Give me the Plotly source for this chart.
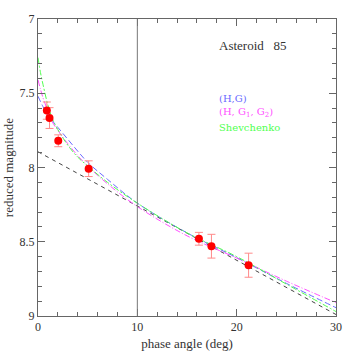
import plotly.graph_objects as go

# observations
obs_alpha = [0.89, 1.16, 2.04, 5.1, 16.2, 17.46, 21.2]
obs_mag = [7.617, 7.667, 7.82, 8.008, 8.48, 8.53, 8.658]
obs_err = [0.058, 0.07, 0.04, 0.053, 0.043, 0.08, 0.081]

# model curves
hg_alpha = [0, 0.5, 1, 1.5, 2, 3, 4, 5, 7, 10, 15, 20, 25, 30]
hg_mag = [7.52, 7.59, 7.65, 7.69, 7.73, 7.81, 7.89, 7.965, 8.08, 8.24, 8.44, 8.607, 8.78, 8.944]

hg12_alpha = [0, 0.5, 1, 1.5, 2, 3, 4, 5, 7, 10, 15, 20, 25, 30]
hg12_mag = [7.41, 7.53, 7.62, 7.70, 7.75, 7.84, 7.92, 7.99, 8.11, 8.263, 8.46, 8.61, 8.765, 8.91]

shev_alpha = [0, 0.25, 0.5, 1, 1.5, 2, 3, 4, 5, 7, 10, 15, 20, 25, 30]
shev_mag = [7.26, 7.36, 7.44, 7.58, 7.68, 7.745, 7.85, 7.93, 7.99, 8.10, 8.24, 8.44, 8.60, 8.785, 8.97]

lin_alpha = [0, 30]
lin_mag = [7.894, 8.99]

title_text = "Asteroid\u00a0\u00a0\u00a085"
legend_labels = ["(H,G)", "(H, G<sub>1</sub>, G<sub>2</sub>)", "Shevchenko"]
legend_colors = ["#6a6aff", "#ff50ff", "#50ff50"]

FONT = "Liberation Serif"

W = H = 354
L, R, T, B = 38, 18, 19, 38
PW = W - L - R
PH = H - T - B

fig = go.Figure()
fig.add_trace(go.Scatter(x=lin_alpha, y=lin_mag, mode="lines",
                         line=dict(color="#444444", width=1, dash="4px,4px"), showlegend=False))
fig.add_trace(go.Scatter(x=hg_alpha, y=hg_mag, mode="lines", line_shape="spline",
                         line=dict(color=legend_colors[0], width=1, dash="6px,3px"), showlegend=False))
fig.add_trace(go.Scatter(x=hg12_alpha, y=hg12_mag, mode="lines", line_shape="spline",
                         line=dict(color=legend_colors[1], width=1, dash="6px,2px,1px,2px"), showlegend=False))
fig.add_trace(go.Scatter(x=shev_alpha, y=shev_mag, mode="lines", line_shape="spline",
                         line=dict(color=legend_colors[2], width=1, dash="6px,2px,2px,2px"), showlegend=False))
fig.add_trace(go.Scatter(x=obs_alpha, y=obs_mag, mode="markers",
                         marker=dict(color="#ff0000", size=8),
                         error_y=dict(type="data", array=obs_err, color="#ff8a8a", thickness=1, width=4),
                         showlegend=False))

fig.add_shape(type="line", xref="x", yref="paper", x0=10, x1=10, y0=0, y1=1,
              line=dict(color="#777777", width=1))

def xd(px):
    return (px - L) / PW
def yd(py):
    return 1 - (py - T) / PH

fig.add_annotation(x=xd(217), y=yd(45), xref="paper", yref="paper", text=title_text,
                   showarrow=False, xanchor="left", yanchor="middle",
                   font=dict(family=FONT, size=13, color="#333333"))
for i, (lab, col) in enumerate(zip(legend_labels, legend_colors)):
    fig.add_annotation(x=xd(217), y=yd(98 + 14.5 * i), xref="paper", yref="paper", text=lab,
                       showarrow=False, xanchor="left", yanchor="middle",
                       font=dict(family="DejaVu Serif", size=10, color=col))

axis_common = dict(showline=True, linecolor="#666666", linewidth=1, mirror="allticks",
                   ticks="inside", tickcolor="#666666", showgrid=False, zeroline=False,
                   automargin=False,
                   tickfont=dict(family=FONT, size=12, color="#333333"))
fig.update_xaxes(range=[0, 30], dtick=10, ticklen=7,
                 minor=dict(dtick=2, ticks="inside", ticklen=4, tickcolor="#666666"),
                 title=dict(text="phase angle (deg)", font=dict(family=FONT, size=13, color="#333333"), standoff=5),
                 **axis_common)
fig.update_yaxes(range=[9, 7], dtick=0.5, ticklen=7,
                 minor=dict(dtick=0.1, ticks="inside", ticklen=4, tickcolor="#666666"),
                 title=dict(text="reduced magnitude", font=dict(family=FONT, size=13, color="#333333"), standoff=3),
                 **axis_common)

fig.update_layout(width=W, height=H, margin=dict(l=L, r=R, t=T, b=B, autoexpand=False),
                  paper_bgcolor="white", plot_bgcolor="white")
fig.write_html("out.html", config={"displayModeBar": False},
               post_script="document.body.style.margin='0px';")
